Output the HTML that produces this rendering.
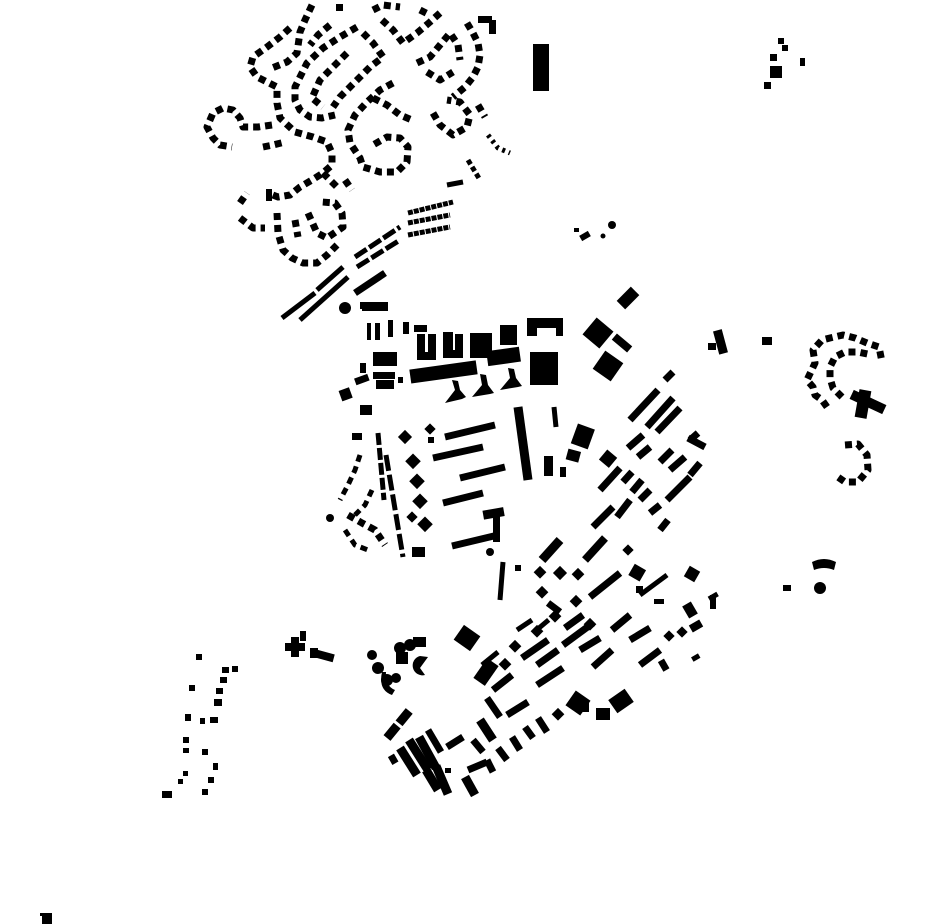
<!DOCTYPE html>
<html><head><meta charset="utf-8"><style>
html,body{margin:0;padding:0;background:#fff;width:930px;height:924px;overflow:hidden}
svg{display:block}
.d{fill:none;stroke:#000;stroke-width:7;stroke-dasharray:7 5;stroke-linejoin:round}
.l{fill:none;stroke:#000;stroke-width:7}
.t{fill:none;stroke:#000;stroke-width:5}
.w{fill:none;stroke:#000;stroke-width:9}
</style></head><body>
<svg width="930" height="924" viewBox="0 0 930 924" xmlns="http://www.w3.org/2000/svg">
<g fill="#000">
<!-- North dotted residential -->
<polyline class="d" points="290,28 280,37 267,47 253,57 250,67 257,77 277,87 277,103 280,118 295,132 313,137 327,142 332,153 332,165 323,173 312,180 300,187 290,195 278,197 268,193"/>
<polyline class="d" points="272,125 258,127 243,127 240,118 233,110 223,108 213,113 207,127 213,138 220,145 232,147"/>
<polyline class="d" points="263,147 273,145 285,142"/>
<polyline class="d" points="312,5 305,20 300,32 297,53 287,62 272,68"/>
<polyline class="d" points="357,27 340,37 323,48 307,63 295,87 295,100 300,110 310,117 322,118 335,115"/>
<polyline class="d" points="363,33 373,43 383,57 370,67 357,80 340,97 333,107"/>
<polyline class="d" points="347,53 333,67 320,80 312,98 323,107"/>
<polyline class="d" points="330,25 318,35 310,45"/>
<polyline class="d" points="393,83 380,90 367,102 355,115 348,130 350,143 360,158 363,167 380,172 397,172 407,162 408,147 400,138 387,137 373,145"/>
<polyline class="d" points="373,98 387,105 400,115 412,120"/>
<polyline class="d" points="373,10 383,5 400,7"/>
<polyline class="d" points="382,20 393,30 403,43 417,33 430,22 440,13"/>
<polyline class="d" points="420,10 430,15"/>
<polyline class="d" points="467,23 473,33 478,43 480,55 478,67 473,77 465,87 453,97"/>
<polyline class="d" points="417,63 430,57 440,45 450,33 458,45 460,60"/>
<polyline class="d" points="427,72 440,80 453,72"/>
<polyline class="d" points="433,113 440,125 453,135 467,127 470,115 460,102 447,100"/>
<polyline class="d" points="478,105 485,117"/>
<rect x="478" y="16" width="14" height="7"/><rect x="489" y="20" width="7" height="14"/>
<rect x="336" y="4" width="7" height="7"/>
<polyline class="d" points="240,203 247,193"/>
<polyline class="d" points="240,218 253,228 265,228"/>
<polyline class="d" points="277,213 278,233 283,250 292,258 303,263 317,263 327,255 337,245"/>
<polyline class="d" points="295,220 298,237"/>
<polyline class="d" points="308,213 317,233 327,238 343,227 342,213 335,203 322,202"/>
<polyline class="d" points="323,173 337,187"/><polyline class="d" points="345,180 352,190"/>
<rect x="266" y="189" width="6" height="12"/>
<polyline class="t" points="468,160 480,180" stroke-dasharray="5 3"/>
<polyline class="t" points="488,135 498,148 510,153" stroke-dasharray="3 4" stroke-width="4"/>
<!-- diagonal bar rows -->
<line class="t" x1="408" y1="213" x2="453" y2="202" stroke-dasharray="5 1"/>
<line class="t" x1="408" y1="223" x2="450" y2="215" stroke-dasharray="5 1"/>
<line class="t" x1="408" y1="235" x2="450" y2="227" stroke-dasharray="5 1"/>
<line class="t" x1="447" y1="185" x2="463" y2="182"/>
<line class="t" x1="355" y1="257" x2="400" y2="227" stroke-dasharray="14 3"/>
<line class="t" x1="357" y1="267" x2="400" y2="240" stroke-dasharray="14 3"/>
<line class="t" x1="282" y1="318" x2="315" y2="293"/>
<line class="t" x1="300" y1="320" x2="348" y2="277"/>
<line class="t" x1="317" y1="290" x2="343" y2="267"/>
<line class="l" x1="355" y1="293" x2="385" y2="273"/>
<rect x="360" y="302" width="28" height="7"/>
<circle cx="345" cy="308" r="6"/>
<rect x="362" y="303" width="26" height="8"/>
<!-- NE -->
<rect x="533" y="44" width="16" height="47"/>
<rect x="778" y="38" width="6" height="6"/><rect x="782" y="45" width="6" height="6"/><rect x="770" y="54" width="7" height="7"/>
<rect x="770" y="66" width="12" height="12"/><rect x="764" y="82" width="7" height="7"/><rect x="800" y="58" width="5" height="8"/>
<rect x="574" y="228" width="5" height="4"/><rect x="580" y="233" width="10" height="6" transform="rotate(-30 585 236)"/>
<circle cx="612" cy="225" r="4"/><circle cx="603" cy="236" r="2.5"/>
<rect x="622" y="288" width="12" height="20" transform="rotate(45 628 298)"/>
<rect x="587" y="322" width="22" height="22" transform="rotate(40 598 333)"/>
<rect x="597" y="355" width="22" height="22" transform="rotate(35 608 366)"/>
<rect x="612" y="339" width="20" height="8" transform="rotate(40 622 343)"/>
<rect x="716" y="330" width="9" height="24" transform="rotate(-15 720 342)"/>
<rect x="708" y="343" width="8" height="7"/>
<rect x="762" y="337" width="10" height="8"/>
<!-- far right loop -->
<polyline class="d" points="827,407 822,400 815,395 813,387 807,380 815,363 813,350 822,340 830,338 843,335 855,338 867,343 879,347 882,362"/>
<polyline class="d" points="842,397 833,388 830,378 830,367 835,357 845,352 858,352 872,355"/>
<rect x="857" y="390" width="12" height="28" transform="rotate(10 863 404)"/>
<rect x="850" y="397" width="36" height="10" transform="rotate(25 868 402)"/>
<polyline class="d" points="845,445 858,444 867,455 868,470 858,482 845,482 835,475"/>
<!-- central blocks -->
<rect x="367" y="323" width="4" height="17"/><rect x="375" y="323" width="5" height="17"/>
<rect x="388" y="320" width="5" height="17"/><rect x="403" y="322" width="6" height="12"/><rect x="414" y="325" width="13" height="7"/>
<rect x="417" y="334" width="8" height="26"/><rect x="428" y="334" width="8" height="26"/><rect x="417" y="352" width="19" height="8"/>
<rect x="443" y="332" width="10" height="25"/><rect x="455" y="334" width="8" height="24"/><rect x="443" y="350" width="20" height="8"/>
<rect x="470" y="333" width="22" height="25"/>
<rect x="500" y="325" width="17" height="20"/>
<rect x="527" y="318" width="36" height="10"/><rect x="527" y="318" width="10" height="18"/><rect x="556" y="318" width="7" height="18"/>
<rect x="373" y="352" width="24" height="14"/><rect x="360" y="363" width="6" height="10"/>
<rect x="373" y="372" width="22" height="7"/><rect x="376" y="380" width="18" height="9"/><rect x="398" y="377" width="5" height="6"/>
<rect x="410" y="365" width="67" height="14" transform="rotate(-8 443 372)"/>
<rect x="487" y="349" width="33" height="15" transform="rotate(-8 503 356)"/>
<rect x="530" y="352" width="28" height="33"/>
<rect x="355" y="376" width="14" height="7" transform="rotate(-20 362 380)"/>
<path d="M445,403 L455,390 L452,380 L458,381 L460,390 L466,397 L462,399 Z"/>
<path d="M472,397 L482,385 L480,374 L486,375 L488,385 L494,393 L490,394 Z"/>
<path d="M500,390 L510,378 L508,368 L514,369 L516,378 L522,386 L518,387 Z"/>
<rect x="340" y="389" width="11" height="11" transform="rotate(-20 345 394)"/>
<rect x="360" y="405" width="12" height="10"/>
<rect x="352" y="433" width="10" height="7"/>
<line class="t" x1="378" y1="433" x2="384" y2="500" stroke-dasharray="12 3"/>
<line class="t" x1="386" y1="455" x2="403" y2="557" stroke-dasharray="16 4"/>
<rect x="400" y="432" width="10" height="10" transform="rotate(45 405 437)"/>
<rect x="407" y="456" width="11" height="11" transform="rotate(45 413 462)"/>
<rect x="411" y="476" width="11" height="11" transform="rotate(45 417 482)"/>
<rect x="414" y="496" width="11" height="11" transform="rotate(45 420 502)"/>
<rect x="419" y="519" width="11" height="11" transform="rotate(45 425 525)"/>
<rect x="408" y="513" width="8" height="8" transform="rotate(45 412 517)"/>
<rect x="426" y="425" width="8" height="8" transform="rotate(45 430 429)"/>
<rect x="428" y="437" width="6" height="6"/>
<line class="l" x1="445" y1="437" x2="495" y2="425"/>
<line class="l" x1="433" y1="458" x2="483" y2="447"/>
<line class="l" x1="460" y1="478" x2="505" y2="467"/>
<line class="l" x1="443" y1="503" x2="483" y2="493"/>
<line class="l" x1="452" y1="546" x2="498" y2="535"/>
<rect x="493" y="512" width="7" height="30"/><rect x="483" y="509" width="21" height="9" transform="rotate(-10 493 513)"/>
<circle cx="490" cy="552" r="4"/>
<line class="w" x1="518" y1="407" x2="528" y2="480"/>
<line class="t" x1="554" y1="407" x2="556" y2="427"/>
<rect x="574" y="426" width="18" height="21" transform="rotate(20 583 436)"/>
<rect x="567" y="450" width="13" height="11" transform="rotate(15 573 455)"/>
<rect x="544" y="456" width="9" height="20"/><rect x="560" y="467" width="6" height="10"/>
<rect x="412" y="547" width="13" height="10"/>
<!-- left cluster -->
<polyline class="d" points="360,455 355,470 348,485 340,500" style="stroke-width:5"/>
<polyline class="d" points="372,490 365,505 355,515" style="stroke-width:5"/>
<polyline class="d" points="348,515 362,523 375,530 385,545" style="stroke-width:7"/>
<polyline class="d" points="345,530 355,545 368,550" style="stroke-width:5"/>
<circle cx="330" cy="518" r="4"/>
<!-- right diagonal bars -->
<g class="l">
<line x1="665" y1="380" x2="673" y2="372"/>
<line x1="630" y1="420" x2="658" y2="390"/>
<line x1="647" y1="427" x2="673" y2="398"/>
<line x1="657" y1="432" x2="680" y2="408"/>
<line x1="628" y1="448" x2="643" y2="435"/>
<line x1="638" y1="457" x2="650" y2="447"/>
<line x1="660" y1="462" x2="672" y2="450"/>
<line x1="670" y1="470" x2="685" y2="457"/>
<line x1="600" y1="490" x2="620" y2="468"/>
<line x1="623" y1="482" x2="632" y2="472"/>
<line x1="632" y1="492" x2="642" y2="480"/>
<line x1="640" y1="500" x2="650" y2="490"/>
<line x1="667" y1="500" x2="690" y2="477"/>
<line x1="690" y1="475" x2="700" y2="463"/>
<line x1="593" y1="527" x2="613" y2="507"/>
<line x1="617" y1="517" x2="630" y2="500"/>
<line x1="650" y1="513" x2="660" y2="505"/>
<line x1="660" y1="530" x2="668" y2="520"/>
<line x1="585" y1="560" x2="605" y2="538" stroke-width="8"/>
<line x1="688" y1="438" x2="705" y2="447"/>
<line x1="690" y1="440" x2="698" y2="433"/>
</g>
<rect x="602" y="452" width="13" height="13" transform="rotate(40 608 458)"/>
<!-- south -->
<line class="t" x1="503" y1="562" x2="500" y2="600"/>
<rect x="515" y="565" width="6" height="6"/>
<line class="w" x1="542" y1="560" x2="560" y2="540"/>
<g>
<rect x="535" y="568" width="9" height="9" transform="rotate(45 540 573)"/>
<rect x="555" y="568" width="10" height="10" transform="rotate(45 560 573)"/>
<rect x="573" y="570" width="9" height="9" transform="rotate(45 578 575)"/>
<rect x="537" y="588" width="9" height="9" transform="rotate(45 542 593)"/>
<rect x="571" y="597" width="9" height="9" transform="rotate(45 576 602)"/>
<rect x="550" y="612" width="9" height="9" transform="rotate(45 555 617)"/>
<rect x="585" y="620" width="9" height="9" transform="rotate(45 590 625)"/>
<rect x="532" y="627" width="9" height="9" transform="rotate(45 537 632)"/>
<rect x="510" y="642" width="9" height="9" transform="rotate(45 515 647)"/>
<rect x="500" y="660" width="9" height="9" transform="rotate(45 505 665)"/>
<rect x="553" y="710" width="9" height="9" transform="rotate(45 558 715)"/>
<rect x="569" y="694" width="18" height="18" transform="rotate(35 578 703)"/>
</g>
<g class="l">
<line x1="590" y1="597" x2="620" y2="573"/>
<line x1="548" y1="603" x2="560" y2="612"/>
<line x1="565" y1="628" x2="583" y2="615"/>
<line x1="563" y1="645" x2="593" y2="623"/>
<line x1="580" y1="650" x2="600" y2="638"/>
<line x1="593" y1="667" x2="612" y2="650"/>
<line x1="517" y1="630" x2="532" y2="620" stroke-width="5"/>
<line x1="522" y1="658" x2="548" y2="640"/>
<line x1="537" y1="665" x2="558" y2="650"/>
<line x1="482" y1="665" x2="498" y2="652" stroke-width="5"/>
<line x1="493" y1="690" x2="512" y2="675"/>
<line x1="537" y1="685" x2="563" y2="668"/>
<line x1="507" y1="715" x2="528" y2="702"/>
<line x1="487" y1="698" x2="500" y2="717"/>
<line x1="480" y1="720" x2="493" y2="740" stroke-width="9"/>
<line x1="473" y1="740" x2="483" y2="752"/>
<line x1="498" y1="748" x2="507" y2="760"/>
<line x1="487" y1="760" x2="493" y2="772"/>
<line x1="512" y1="737" x2="520" y2="750"/>
<line x1="525" y1="727" x2="533" y2="738"/>
<line x1="538" y1="718" x2="547" y2="732"/>
<line x1="447" y1="747" x2="463" y2="737"/>
<line x1="468" y1="770" x2="487" y2="762"/>
<line x1="465" y1="777" x2="475" y2="795" stroke-width="9"/>
<line x1="640" y1="595" x2="667" y2="575" stroke-width="5"/>
<line x1="630" y1="640" x2="650" y2="628"/>
<line x1="640" y1="665" x2="660" y2="650"/>
<line x1="612" y1="630" x2="630" y2="615"/>
</g>
<rect x="624" y="546" width="8" height="8" transform="rotate(45 628 550)"/>
<rect x="631" y="566" width="13" height="13" transform="rotate(30 637 572)"/>
<rect x="636" y="586" width="7" height="7"/>
<rect x="686" y="568" width="12" height="12" transform="rotate(30 692 574)"/>
<rect x="710" y="595" width="6" height="14"/><rect x="708" y="594" width="10" height="5" transform="rotate(-30 713 596)"/>
<rect x="685" y="603" width="10" height="14" transform="rotate(-30 690 610)"/>
<rect x="690" y="622" width="12" height="8" transform="rotate(-30 696 626)"/>
<rect x="692" y="655" width="8" height="5" transform="rotate(-30 696 658)"/>
<rect x="660" y="660" width="7" height="11" transform="rotate(-30 663 665)"/>
<rect x="678" y="628" width="8" height="8" transform="rotate(45 682 632)"/>
<rect x="665" y="632" width="8" height="8" transform="rotate(45 669 636)"/>
<rect x="654" y="599" width="10" height="5"/>
<rect x="577" y="702" width="12" height="10"/>
<rect x="611" y="693" width="20" height="16" transform="rotate(-35 621 701)"/>
<rect x="596" y="708" width="14" height="12"/>
<rect x="536" y="622" width="14" height="5" transform="rotate(-40 543 624)"/>
<!-- big squares -->
<rect x="457" y="629" width="20" height="18" transform="rotate(35 467 638)"/>
<rect x="479" y="660" width="14" height="24" transform="rotate(35 486 672)"/>
<line x1="387" y1="738" x2="410" y2="710" class="w" stroke-dasharray="16 3"/>
<line class="w" x1="400" y1="748" x2="417" y2="775"/>
<line class="w" x1="409" y1="740" x2="428" y2="770"/>
<line class="w" x1="419" y1="737" x2="436" y2="768"/>
<line class="l" x1="428" y1="730" x2="441" y2="752"/>
<line class="w" x1="426" y1="770" x2="438" y2="790"/>
<line class="w" x1="436" y1="766" x2="448" y2="794"/>
<rect x="390" y="755" width="7" height="9" transform="rotate(-30 393 760)"/>
<rect x="445" y="768" width="6" height="5"/>
<!-- cloister -->
<circle cx="400" cy="648" r="6"/><circle cx="410" cy="645" r="6"/><rect x="413" y="637" width="13" height="10"/>
<circle cx="372" cy="655" r="5"/><circle cx="378" cy="668" r="6"/><circle cx="387" cy="680" r="6"/><circle cx="396" cy="678" r="5"/>
<path d="M382,672 Q378,690 392,695 L395,690 Q385,686 386,672 Z"/>
<path d="M420,656 A8,8 0 1 0 425,675 L420,668 L428,657 Z"/>
<rect x="396" y="652" width="12" height="12"/>
<!-- cross blobs -->
<rect x="291" y="637" width="8" height="20"/><rect x="285" y="643" width="20" height="8"/><rect x="300" y="631" width="6" height="10"/>
<rect x="310" y="648" width="8" height="10"/><rect x="316" y="652" width="18" height="8" transform="rotate(15 325 656)"/>
<!-- far left dotted -->
<g>
<rect x="196" y="654" width="6" height="6"/><rect x="222" y="667" width="7" height="6"/><rect x="220" y="677" width="7" height="6"/>
<rect x="216" y="688" width="7" height="6"/><rect x="214" y="699" width="8" height="7"/><rect x="189" y="685" width="6" height="6"/>
<rect x="185" y="714" width="6" height="7"/><rect x="200" y="718" width="5" height="6"/><rect x="210" y="717" width="8" height="6"/>
<rect x="183" y="737" width="6" height="6"/><rect x="183" y="748" width="6" height="5"/><rect x="202" y="749" width="6" height="6"/>
<rect x="213" y="763" width="5" height="7"/><rect x="208" y="777" width="6" height="6"/><rect x="202" y="789" width="6" height="6"/>
<rect x="183" y="771" width="5" height="5"/><rect x="178" y="779" width="5" height="5"/><rect x="162" y="791" width="10" height="7"/>
<rect x="232" y="666" width="6" height="6"/>
</g>
<!-- east small -->
<rect x="783" y="585" width="8" height="6"/>
<path d="M812,562 Q824,556 836,562 L834,570 Q824,566 814,570 Z"/>
<circle cx="820" cy="588" r="6"/>
<!-- corner mark -->
<rect x="42" y="913" width="10" height="11"/><rect x="40" y="913" width="4" height="3"/>
</g>
</svg>
</body></html>
